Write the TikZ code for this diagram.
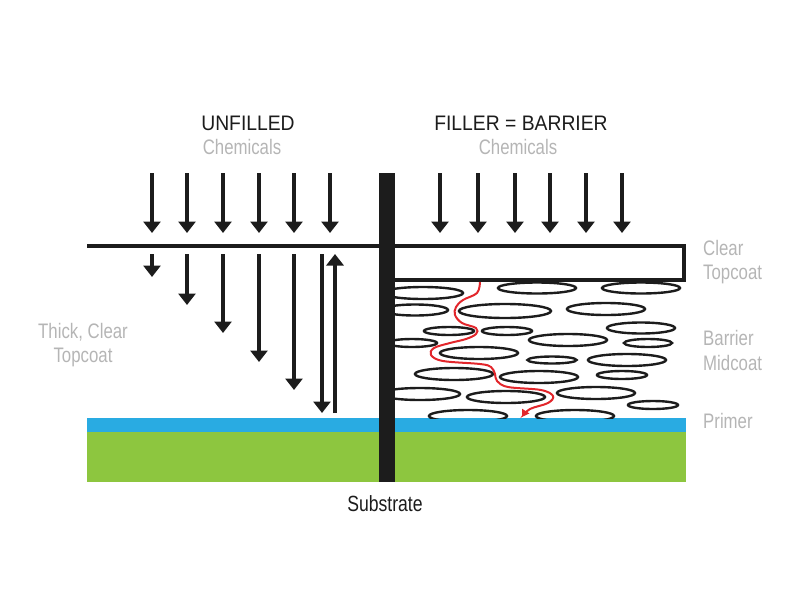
\documentclass[tikz,border=0pt]{standalone}
\usepackage{fontspec}
\setmainfont{Liberation Sans}
\newfontfamily\titlefont{Liberation Sans}[FakeStretch=0.92]
\newfontfamily\condfont{Liberation Sans}[FakeStretch=0.8]
\usetikzlibrary{arrows.meta}
\definecolor{ink}{HTML}{1C1C1C}
\definecolor{lblgray}{HTML}{B5B5B5}
\definecolor{primerblue}{HTML}{29ABE2}
\definecolor{substgreen}{HTML}{8DC63F}
\definecolor{pathred}{HTML}{E2262B}
\begin{document}
\begin{tikzpicture}[x=1pt,y=-1pt,
  chemarrow/.style={draw=ink, line width=3.3pt, -{Triangle[width=17pt,length=11.5pt]}},
  flake/.style={draw=ink, line width=2.4pt},
  titletext/.style={anchor=base, text=ink, inner sep=0pt, font=\titlefont\fontsize{21}{24}\selectfont},
  graytext/.style={anchor=base, text=lblgray, inner sep=0pt, font=\condfont\fontsize{21}{24}\selectfont},
  sidetext/.style={graytext, anchor=base west},
  layerline/.style={draw=ink, line width=4pt}
]
\useasboundingbox (0,0) rectangle (800,600);

% substrate and primer
\fill[substgreen] (87,432) rectangle (686,482);
\fill[primerblue] (87,418) rectangle (686,432);

% barrier flakes
\begin{scope}
\clip (395,281) rectangle (686,418);
\foreach \cx/\cy/\rx/\ry in {423/293/40/6, 537/288/39/5.5, 641/288/39/5.5,
  415/310/33/5.5, 505/311/46/7, 606/309/39/6,
  449/331/25/4, 507/331/25/4, 641/328/34/5.5,
  412/343/25/4, 568/340/39/6, 648/343/24/4,
  479/353/39/6, 552/360/24.5/3.5, 627/360/39/6,
  454/374/39/6, 539/377/39/6, 622/375/25/4,
  420/394/40/6, 506/397/39/6, 596/393/39/6, 653/405/25/4,
  468/416/39/6, 575/416/39/6}
  \draw[flake] (\cx,\cy) ellipse [x radius=\rx pt, y radius=\ry pt];
\end{scope}

% red tortuous path
\coordinate (rs) at (480,282);
\coordinate (re) at (522,417);
\draw[pathred, line width=2pt, -{Triangle[width=8pt,length=7pt]}]
  plot[smooth, tension=0.6] coordinates {(480,282) (477,293) (463,300) (456,307) (455,315) (462,323) (476,328) (476,334) (466,339) (450,343) (434,348) (431,355) (443,361) (480,364) (491,367) (495,374) (497,381) (508,387) (541,390) (553,396) (548,403) (530,409) (522,417)};

% topcoats
\coordinate (tl) at (87,246);
\coordinate (tm) at (381,246);
\draw[layerline] (tl) -- (tm);
\draw[layerline] (381,246) rectangle (684,279.5);

% centre divider
\fill[ink] (379,173) rectangle (395,482);

% incoming chemicals
\foreach \x [count=\i] in {152,187,223,259,294,330} {
  \coordinate (la\i) at (\x,173); \coordinate (lb\i) at (\x,233);
  \draw[chemarrow] (la\i) -- (lb\i);
}
\foreach \x [count=\i] in {440,478,515,550,586,622} {
  \coordinate (ra\i) at (\x,173); \coordinate (rb\i) at (\x,233);
  \draw[chemarrow] (ra\i) -- (rb\i);
}
% penetration through thick clear topcoat
\foreach \x/\y [count=\i] in {152/277,187/305,223/333,259/362,294/390,322/413} {
  \coordinate (pa\i) at (\x,254); \coordinate (pb\i) at (\x,\y);
  \draw[chemarrow] (pa\i) -- (pb\i);
}
\coordinate (ba) at (335,413); \coordinate (bb) at (335,254);
\draw[chemarrow] (ba) -- (bb);

% texts
\node[titletext] (unf) at (248,130.5) {UNFILLED};
\node[graytext] (chl) at (242,154) {Chemicals};
\node[titletext] (fil) at (521,130.5) {FILLER = BARRIER};
\node[graytext] (chr) at (518,154) {Chemicals};
\node[graytext] (thk1) at (83,338) {Thick, Clear};
\node[graytext] (thk2) at (83,362.5) {Topcoat};
\node[sidetext] (ct1) at (703,255) {Clear};
\node[sidetext] (ct2) at (703,279) {Topcoat};
\node[sidetext] (bm1) at (703,345) {Barrier};
\node[sidetext] (bm2) at (703,370) {Midcoat};
\node[sidetext] (pr) at (703,428) {Primer};
\node[titletext, font=\condfont\fontsize{22}{24}\selectfont] (sub) at (385,511) {Substrate};
\end{tikzpicture}
\end{document}
